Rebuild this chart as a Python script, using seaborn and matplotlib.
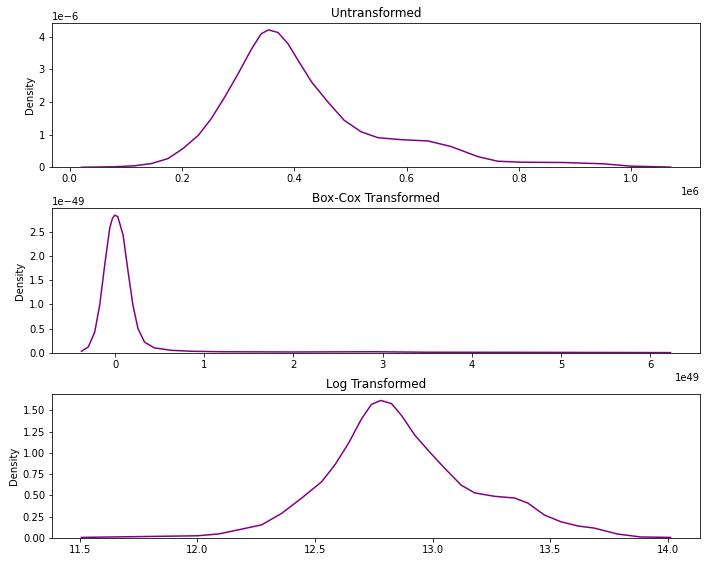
import numpy as np
import pandas as pd
import matplotlib
matplotlib.use("Agg")
import matplotlib.pyplot as plt
import seaborn as sns

# Untransformed (x in units of 1e6, density in units of 1e-6)
raw_x = [0.021, 0.080, 0.116, 0.146, 0.175, 0.202, 0.229, 0.252, 0.276, 0.300,
         0.324, 0.341, 0.354, 0.371, 0.389, 0.407, 0.431, 0.460, 0.489, 0.519,
         0.549, 0.590, 0.638, 0.679, 0.727, 0.762, 0.803, 0.880, 0.951, 0.998,
         1.070]
raw_d = [0.005, 0.02, 0.05, 0.12, 0.27, 0.58, 0.98, 1.49, 2.15, 2.87,
         3.63, 4.09, 4.21, 4.13, 3.78, 3.27, 2.61, 2.00, 1.44, 1.09,
         0.91, 0.85, 0.81, 0.64, 0.33, 0.19, 0.16, 0.15, 0.11, 0.04,
         0.01]

# Box-Cox transformed (x in units of 1e49, density in units of 1e-49)
bc_x = [-0.377, -0.300, -0.228, -0.172, -0.116, -0.060, -0.030, -0.004, 0.030,
        0.090, 0.146, 0.200, 0.257, 0.330, 0.440, 0.630, 0.850, 1.200, 2.000,
        2.900, 3.500, 4.500, 5.500, 6.230]
bc_d = [0.03, 0.12, 0.43, 0.99, 1.82, 2.58, 2.78, 2.85, 2.82,
        2.44, 1.68, 0.99, 0.50, 0.22, 0.10, 0.05, 0.03, 0.02, 0.015,
        0.02, 0.01, 0.008, 0.005, 0.002]

# Log transformed
log_x = [11.508, 12.000, 12.090, 12.190, 12.274, 12.359, 12.444, 12.528, 12.585,
         12.642, 12.698, 12.740, 12.780, 12.825, 12.868, 12.924, 12.981, 13.051,
         13.122, 13.179, 13.263, 13.348, 13.405, 13.475, 13.546, 13.620, 13.686,
         13.785, 13.884, 14.011]
log_d = [0.007, 0.026, 0.047, 0.105, 0.155, 0.290, 0.470, 0.660, 0.860,
         1.110, 1.400, 1.570, 1.617, 1.580, 1.440, 1.210, 1.030, 0.820,
         0.620, 0.530, 0.490, 0.470, 0.410, 0.270, 0.190, 0.140, 0.117,
         0.047, 0.012, 0.007]

titles = ["Untransformed", "Box-Cox Transformed", "Log Transformed"]

panels = [
    (np.array(raw_x) * 1e6, np.array(raw_d) * 1e-6),
    (np.array(bc_x) * 1e49, np.array(bc_d) * 1e-49),
    (np.array(log_x), np.array(log_d)),
]

W, H = 706, 562
fig, axes = plt.subplots(3, 1, figsize=(W / 72, H / 72), dpi=72)
fig.subplots_adjust(left=52 / W, right=700 / W, top=1 - 23 / H,
                    bottom=1 - 538 / H, hspace=0.283)
for ax, (x, d), title in zip(axes, panels, titles):
    df = pd.DataFrame({"x": x, "Density": d})
    sns.lineplot(data=df, x="x", y="Density", ax=ax, color="purple", linewidth=1.5)
    ax.set_ylim(bottom=0)
    ax.set_xlabel("")
    ax.set_ylabel("Density")
    ax.set_title(title)

fig.savefig("out.png", dpi=72)
